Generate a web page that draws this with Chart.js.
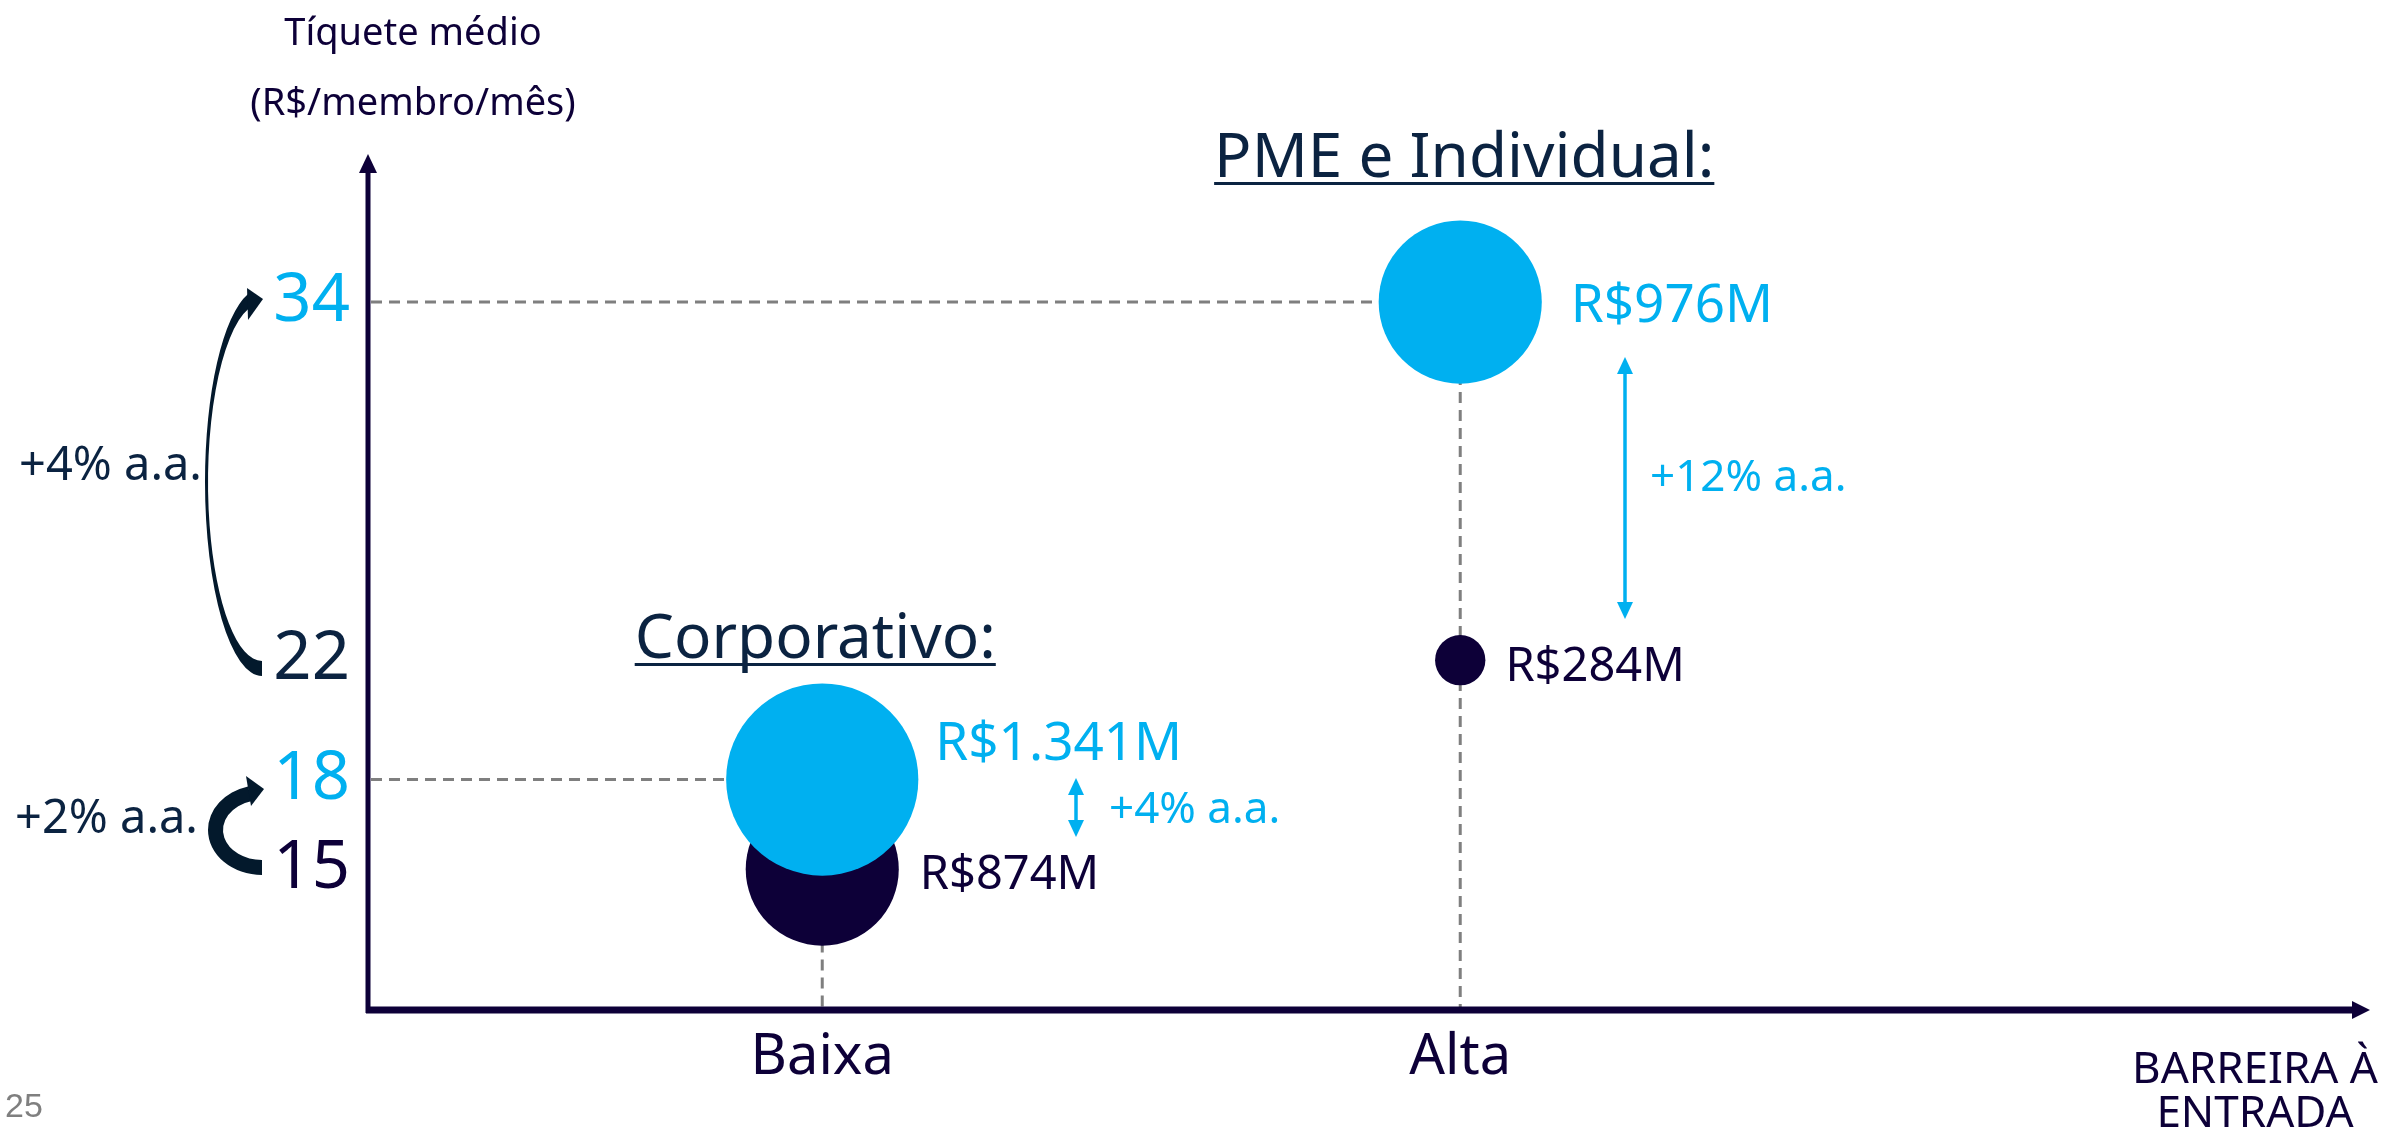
<!DOCTYPE html>
<html>
<head>
<meta charset="utf-8">
<script src="https://cdn.jsdelivr.net/npm/chart.js@4.4.0/dist/chart.umd.min.js"></script>
<style>
  html, body { margin: 0; padding: 0; background: #fff; }
  #holder { width: 2382px; height: 1132px; }
</style>
</head>
<body>
<div id="holder"><canvas id="bubbleChart" width="2382" height="1132"></canvas></div>
<script>
// barreira à entrada (eixo x) e segmentos
var barriers = ['Baixa', 'Alta'];
var segments = ['Corporativo:', 'PME e Individual:'];
// tíquete médio, R$/membro/mês
var ticketBefore = [15, 22];
var ticketNow = [18, 34];
var yTicks = [15, 18, 22, 34];
// receita em R$ milhões (tamanho das bolhas)
var revenueBefore = [874, 284];
var revenueNow = [1341, 976];
// crescimentos
var revenueGrowth = ['+4% a.a.', '+12% a.a.'];
var ticketGrowth = ['+2% a.a.', '+4% a.a.'];

var FONT = '"Noto Sans", "Open Sans", sans-serif';
var CYAN = '#00b0f0';
var INDIGO = '#0d0038';
var NAVY = '#0b2341';
var ARROW = '#03192c';
var GRAY = '#7f7f7f';

function bubbleRadius(v) {
    return 45.7 * Math.log(v) - 233;
}

function money(v) {
    return 'R$' + String(v).replace(/\B(?=(\d{3})+(?!\d))/g, '.') + 'M';
}

function tickColor(v) {
    if (ticketNow.indexOf(v) >= 0) return CYAN;
    return v === ticketBefore[0] ? INDIGO : NAVY;
}

function txt(ctx, s, x, y, size, color, align, family) {
    ctx.font = size + 'px ' + (family || FONT);
    ctx.fillStyle = color;
    ctx.textAlign = align || 'left';
    ctx.textBaseline = 'alphabetic';
    ctx.fillText(s, x, y);
    return ctx.measureText(s).width;
}

function dblArrow(ctx, x, y1, y2, color) {
    ctx.strokeStyle = color;
    ctx.fillStyle = color;
    ctx.lineWidth = 3.5;
    ctx.beginPath();
    ctx.moveTo(x, y1 + 12);
    ctx.lineTo(x, y2 - 12);
    ctx.stroke();
    ctx.beginPath();
    ctx.moveTo(x, y1); ctx.lineTo(x - 8, y1 + 17); ctx.lineTo(x + 8, y1 + 17);
    ctx.closePath(); ctx.fill();
    ctx.beginPath();
    ctx.moveTo(x, y2); ctx.lineTo(x - 8, y2 - 17); ctx.lineTo(x + 8, y2 - 17);
    ctx.closePath(); ctx.fill();
}

// seta curva (do valor anterior para o atual), corpo em arco de elipse
function curvedArrow(ctx, cx, cy, rxOut, ryOut, rxIn, ryIn, endA, head) {
    ctx.fillStyle = ARROW;
    ctx.beginPath();
    ctx.ellipse(cx, cy, rxOut, ryOut, 0, Math.PI / 2, endA, false);
    ctx.ellipse(cx, cy, rxIn, ryIn, 0, endA, Math.PI / 2, true);
    ctx.closePath();
    ctx.fill();
    ctx.beginPath();
    ctx.moveTo(head[0][0], head[0][1]);
    ctx.lineTo(head[1][0], head[1][1]);
    ctx.lineTo(head[2][0], head[2][1]);
    ctx.closePath();
    ctx.fill();
}

var annotate = {
    id: 'annotate',
    beforeDatasetsDraw: function(chart) {
        var ctx = chart.ctx, xs = chart.scales.x, ys = chart.scales.y, area = chart.chartArea;
        ctx.save();
        ctx.strokeStyle = GRAY;
        ctx.lineWidth = 3;
        ctx.setLineDash([11, 7]);
        barriers.forEach(function(b, i) {
            var px = xs.getPixelForValue(i + 1);
            var py = ys.getPixelForValue(ticketNow[i]);
            ctx.beginPath(); ctx.moveTo(area.left + 3, py); ctx.lineTo(px, py); ctx.stroke();
            ctx.beginPath(); ctx.moveTo(px, py); ctx.lineTo(px, area.bottom); ctx.stroke();
        });
        ctx.restore();
    },
    afterDatasetsDraw: function(chart) {
        var ctx = chart.ctx, xs = chart.scales.x, area = chart.chartArea;
        ctx.save();

        // eixos com setas
        ctx.strokeStyle = INDIGO;
        ctx.fillStyle = INDIGO;
        ctx.lineWidth = 5;
        ctx.beginPath();
        ctx.moveTo(area.left, area.bottom + 3);
        ctx.lineTo(area.left, area.top + 10);
        ctx.stroke();
        ctx.beginPath();
        ctx.moveTo(area.left, area.top - 6);
        ctx.lineTo(area.left - 9, area.top + 13);
        ctx.lineTo(area.left + 9, area.top + 13);
        ctx.closePath(); ctx.fill();
        ctx.lineWidth = 7;
        ctx.beginPath();
        ctx.moveTo(area.left - 2, area.bottom);
        ctx.lineTo(area.right - 14, area.bottom);
        ctx.stroke();
        ctx.beginPath();
        ctx.moveTo(area.right, area.bottom);
        ctx.lineTo(area.right - 18, area.bottom - 9);
        ctx.lineTo(area.right - 18, area.bottom + 9);
        ctx.closePath(); ctx.fill();

        // rótulos de receita ao lado das bolhas
        var nowMeta = chart.getDatasetMeta(0), beforeMeta = chart.getDatasetMeta(1);
        var nowShift = [[17, -39], [29, 1]];
        var beforeShift = [[21, 3], [20, 4]];
        barriers.forEach(function(b, i) {
            var p = nowMeta.data[i], q = beforeMeta.data[i];
            var rp = bubbleRadius(revenueNow[i]), rq = bubbleRadius(revenueBefore[i]);
            txt(ctx, money(revenueNow[i]), p.x + rp + nowShift[i][0], p.y + nowShift[i][1] + 0.357 * 53, 53, CYAN);
            txt(ctx, money(revenueBefore[i]), q.x + rq + beforeShift[i][0], q.y + beforeShift[i][1] + 0.357 * 47, 47, INDIGO);
        });

        // crescimento da receita
        dblArrow(ctx, 1076, 778, 837, CYAN);
        txt(ctx, revenueGrowth[0], 1109, 823, 44, CYAN);
        dblArrow(ctx, 1625, 357, 619, CYAN);
        txt(ctx, revenueGrowth[1], 1650, 491, 44, CYAN);

        // crescimento do tíquete (setas curvas à esquerda)
        curvedArrow(ctx, 262, 482, 57, 194, 54, 179, 4.465, [[247, 288], [263, 299], [248, 320]]);
        txt(ctx, ticketGrowth[1], 19, 480, 47, NAVY);
        curvedArrow(ctx, 262, 830, 54, 45, 39, 30, 4.45, [[246, 776], [264, 789], [251, 806]]);
        txt(ctx, ticketGrowth[0], 15, 833, 47, NAVY);

        // títulos dos segmentos, sublinhados
        var headBase = [658, 177];
        var headShift = [-7, 4];
        segments.forEach(function(s, i) {
            var cx = xs.getPixelForValue(i + 1) + headShift[i];
            var w = txt(ctx, s, cx, headBase[i], 62, NAVY, 'center');
            ctx.fillStyle = NAVY;
            ctx.fillRect(cx - w / 2, headBase[i] + 5, w, 3);
        });

        // títulos dos eixos
        txt(ctx, 'Tíquete médio', 413, 45, 38, INDIGO, 'center');
        txt(ctx, '(R$/membro/mês)', 413, 115, 38, INDIGO, 'center');
        txt(ctx, 'BARREIRA À', 2255, 1083, 44, INDIGO, 'center');
        txt(ctx, 'ENTRADA', 2255, 1127, 44, INDIGO, 'center');

        // número da página
        txt(ctx, '25', 5, 1117, 34, GRAY, 'left', '"Liberation Sans", Arial, sans-serif');
        ctx.restore();
    }
};

var ctx = document.getElementById('bubbleChart');
var bubbleChart = new Chart(ctx, {
    type: 'bubble',
    data: {
        datasets: [{
            label: 'Atual',
            data: barriers.map(function(b, i) {
                return { x: i + 1, y: ticketNow[i], r: bubbleRadius(revenueNow[i]) };
            }),
            backgroundColor: CYAN,
            borderWidth: 0
        }, {
            label: 'Anterior',
            data: barriers.map(function(b, i) {
                return { x: i + 1, y: ticketBefore[i], r: bubbleRadius(revenueBefore[i]) };
            }),
            backgroundColor: INDIGO,
            borderWidth: 0
        }]
    },
    options: {
        responsive: false,
        devicePixelRatio: 1,
        animation: false,
        events: [],
        layout: { autoPadding: false, padding: { top: 160, right: 12, left: 0, bottom: 0 } },
        plugins: {
            legend: { display: false },
            tooltip: { enabled: false }
        },
        scales: {
            x: {
                type: 'linear',
                min: 0.288,
                max: 3.426,
                grid: { display: false, drawTicks: false },
                border: { display: false },
                afterBuildTicks: function(axis) {
                    axis.ticks = barriers.map(function(b, i) { return { value: i + 1 }; });
                },
                afterFit: function(axis) { axis.height = 122; },
                ticks: {
                    autoSkip: false,
                    maxRotation: 0,
                    padding: 14,
                    color: INDIGO,
                    font: { family: FONT, size: 56 },
                    callback: function(v) { return barriers[v - 1]; }
                }
            },
            y: {
                min: 10.28,
                max: 38.76,
                grid: { display: false, drawTicks: false },
                border: { display: false },
                afterBuildTicks: function(axis) {
                    axis.ticks = yTicks.map(function(v) { return { value: v }; });
                },
                afterFit: function(axis) { axis.width = 368; },
                ticks: {
                    autoSkip: false,
                    padding: 18,
                    color: function(c) { return tickColor(c.tick.value); },
                    font: { family: FONT, size: 67 },
                    callback: function(v) { return v; }
                }
            }
        }
    },
    plugins: [annotate]
});
</script>
</body>
</html>
